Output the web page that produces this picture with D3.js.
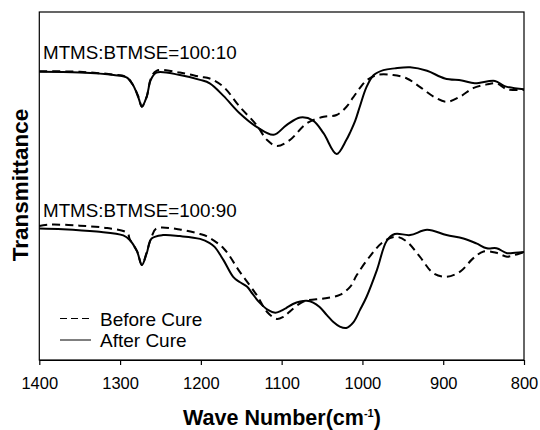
<!DOCTYPE html>
<html>
<head>
<meta charset="utf-8">
<script src="https://cdn.jsdelivr.net/npm/d3@7"></script>
<style>
  body { margin: 0; background: #fff; }
  svg { display: block; font-family: Arial, "Liberation Sans", sans-serif; }
</style>
</head>
<body>
<div id="chart"></div>
<script>
// Wave number ticks (cm-1), axis runs from 1400 down to 800.
const xTicks = [1400, 1300, 1200, 1100, 1000, 900, 800];

// Spectra as [wave number, transmittance (arbitrary %, offset per sample)].
// MTMS:BTMSE = 100:10
const before10 = [
  [1400, 83.0], [1350, 82.8], [1308, 82.0], [1292, 81.3], [1284, 79.0], [1277, 75.5],
  [1273, 72.8], [1267, 75.7], [1262, 80.8], [1255, 83.1], [1226, 82.6], [1201, 81.4],
  [1189, 80.9], [1172, 78.5], [1152, 72.8], [1131, 67.5], [1118, 63.2], [1106, 61.5],
  [1090, 63.2], [1069, 68.0], [1048, 69.9], [1032, 70.4], [1020, 72.7], [1012, 75.3],
  [1003, 78.2], [995, 80.3], [982, 81.9], [962, 81.9], [945, 80.9], [929, 78.5],
  [912, 75.7], [896, 74.2], [879, 75.7], [863, 78.1], [846, 79.2], [834, 79.5],
  [821, 77.8], [800, 77.6]
];
const after10 = [
  [1400, 82.8], [1350, 82.6], [1308, 81.9], [1292, 81.2], [1284, 79.0], [1277, 75.2],
  [1273, 72.8], [1267, 75.7], [1262, 80.5], [1255, 82.6], [1226, 81.9], [1201, 80.5],
  [1189, 79.5], [1172, 75.9], [1152, 70.9], [1131, 67.0], [1110, 64.7], [1094, 67.5],
  [1077, 69.7], [1061, 68.8], [1048, 65.1], [1032, 59.2], [1020, 63.2], [1015, 65.5],
  [1009, 68.7], [1003, 73.0], [995, 78.4], [986, 81.9], [974, 83.3], [960, 83.8],
  [941, 84.1], [920, 83.1], [898, 80.9], [877, 80.3], [861, 79.5], [836, 80.2],
  [824, 78.7], [800, 77.8]
];

// MTMS:BTMSE = 100:90
const before90 = [
  [1400, 38.5], [1387, 38.9], [1350, 38.6], [1316, 37.9], [1291, 36.5], [1288, 34.7],
  [1279, 31.3], [1273, 27.3], [1267, 31.0], [1261, 35.4], [1255, 37.8], [1226, 37.5],
  [1201, 36.2], [1193, 35.6], [1172, 32.1], [1152, 25.4], [1131, 18.7], [1118, 13.8],
  [1106, 11.8], [1098, 12.4], [1090, 13.9], [1073, 16.8], [1048, 17.7], [1028, 18.7],
  [1015, 21.1], [1007, 24.4], [991, 29.7], [974, 34.0], [958, 35.4], [945, 34.0],
  [929, 29.7], [912, 24.9], [896, 23.9], [879, 25.4], [863, 29.2], [850, 31.2],
  [834, 30.8], [821, 29.7], [811, 30.2], [800, 31.0]
];
const after90 = [
  [1400, 37.8], [1371, 37.6], [1329, 36.9], [1296, 35.8], [1288, 34.5], [1279, 31.2],
  [1273, 27.3], [1267, 30.7], [1261, 34.9], [1247, 35.9], [1226, 35.6], [1201, 34.8],
  [1189, 33.6], [1183, 32.5], [1172, 28.7], [1160, 23.9], [1152, 22.4], [1143, 21.1],
  [1136, 19.0], [1127, 16.4], [1117, 14.4], [1108, 13.6], [1101, 14.1], [1094, 15.0],
  [1086, 16.1], [1077, 16.8], [1069, 17.0], [1061, 16.5], [1053, 15.2], [1044, 12.9],
  [1036, 10.9], [1028, 9.6], [1020, 9.2], [1011, 10.9], [1003, 14.4], [995, 18.1],
  [982, 25.9], [970, 34.2], [960, 36.2], [941, 35.9], [920, 37.4], [896, 35.9],
  [875, 34.9], [859, 33.5], [846, 32.1], [834, 32.1], [821, 30.7], [811, 30.8], [800, 31.0]
];

const sampleLabels = ["MTMS:BTMSE=100:10", "MTMS:BTMSE=100:90"];
const legendLabels = ["Before Cure", "After Cure"];

// Chart frame.
const w = 540, h = 430;
const plotLeft = 39.3, plotRight = 524, plotTop = 12, plotBottom = 360;

const xScale = d3.scaleLinear().domain([1400, 800]).range([plotLeft, plotRight]);
const yScale = d3.scaleLinear().domain([0, 100]).range([plotBottom, plotTop]);

const svg = d3.select("#chart").append("svg")
    .attr("width", w)
    .attr("height", h);

// Plot border.
svg.append("rect")
    .attr("x", plotLeft)
    .attr("y", plotTop)
    .attr("width", plotRight - plotLeft)
    .attr("height", plotBottom - plotTop)
    .attr("fill", "none")
    .attr("stroke", "#000")
    .attr("stroke-width", 1.2);

// Bottom axis.
const xAxis = d3.axisBottom(xScale)
    .tickValues(xTicks)
    .tickFormat(d3.format("d"))
    .tickSize(5)
    .tickSizeOuter(0);

const gx = svg.append("g")
    .attr("transform", `translate(0, ${plotBottom})`)
    .call(xAxis);
gx.select(".domain").attr("stroke-width", 1.2);
gx.selectAll(".tick line").attr("stroke-width", 1.2);
gx.selectAll(".tick text")
    .attr("font-size", 16.5)
    .attr("font-family", "Arial, 'Liberation Sans', sans-serif")
    .attr("fill", "#000")
    .attr("dy", null)
    .attr("y", 29);

// Spectra.
const line = d3.line()
    .x(d => xScale(d[0]))
    .y(d => yScale(d[1]))
    .curve(d3.curveCatmullRom.alpha(0.5));

const series = [
  { data: before10, dash: "8,5" },
  { data: after10, dash: null },
  { data: before90, dash: "8,5" },
  { data: after90, dash: null }
];

svg.selectAll("path.spectrum")
    .data(series)
    .enter()
    .append("path")
    .attr("class", "spectrum")
    .attr("d", d => line(d.data))
    .attr("fill", "none")
    .attr("stroke", "#000")
    .attr("stroke-width", 2)
    .attr("stroke-dasharray", d => d.dash);

// Sample labels.
svg.selectAll("text.sample")
    .data(sampleLabels)
    .enter()
    .append("text")
    .attr("class", "sample")
    .attr("x", 43)
    .attr("y", (d, i) => i === 0 ? 59 : 217)
    .attr("font-size", 18.8)
    .text(d => d);

// Legend.
const legend = svg.append("g").attr("transform", "translate(60, 318.5)");
legendLabels.forEach((label, i) => {
  legend.append("line")
      .attr("x1", 0).attr("x2", 31)
      .attr("y1", i * 21.5).attr("y2", i * 21.5)
      .attr("stroke", "#000")
      .attr("stroke-width", 1)
      .attr("stroke-dasharray", i === 0 ? "7,4" : null);
  legend.append("text")
      .attr("x", 40)
      .attr("y", i * 21.5 + 7)
      .attr("font-size", 19)
      .text(label);
});

// Axis titles.
const xTitle = svg.append("text")
    .attr("x", 282)
    .attr("y", 425)
    .attr("text-anchor", "middle")
    .attr("font-size", 21.5)
    .attr("font-weight", "bold");
xTitle.append("tspan").text("Wave Number(cm");
xTitle.append("tspan").attr("font-size", 11).attr("dy", -8).text("-1");
xTitle.append("tspan").attr("dy", 8).text(")");

svg.append("text")
    .attr("transform", `translate(28, 185) rotate(-90)`)
    .attr("text-anchor", "middle")
    .attr("font-size", 22.5)
    .attr("font-weight", "bold")
    .text("Transmittance");
</script>
</body>
</html>
